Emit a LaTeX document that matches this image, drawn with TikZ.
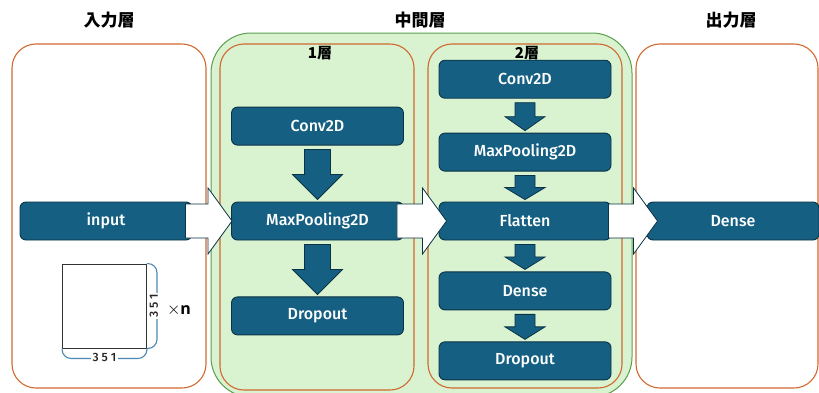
\documentclass[tikz,border=0pt]{standalone}
\usepackage{fontspec}
\setmainfont{Open Sans}
\newfontfamily\jpfont{Noto Sans CJK JP}
\newfontfamily\boxfont{Fira Sans}[UprightFont={* Medium}]
\usepackage{tikz}
\usetikzlibrary{positioning,calc}

\definecolor{nnblue}{HTML}{156082}
\definecolor{nnline}{HTML}{0B3245}
\definecolor{frameorange}{HTML}{D0692F}
\definecolor{midgreen}{HTML}{D9F2D0}
\definecolor{midgreenline}{HTML}{5C9E4E}
\definecolor{bracecol}{HTML}{4A88B5}

\tikzset{
  layerbox/.style={draw=nnline, fill=nnblue, line width=0.9pt, rounded corners=6pt,
    text=white, minimum width=172pt, minimum height=38pt, inner sep=0pt,
    font=\boxfont\fontsize{16}{18}\selectfont},
  frame/.style={draw=frameorange, line width=1.1pt, rounded corners=24pt},
  title/.style={font=\jpfont\bfseries\fontsize{17}{20}\selectfont},
  subtitle/.style={font=\jpfont\bfseries\fontsize{15}{18}\selectfont},
  blkarrow/.style={draw=nnline, fill=nnblue, line width=0.8pt, line join=miter},
  wharrow/.style={draw=nnline, fill=white, line width=0.8pt, line join=miter},
  dimlabel/.style={fill=white, inner sep=1.5pt, text=black!85,
    font=\boxfont\fontsize{12}{13}\selectfont},
}

% flecha hacia abajo: desde, hasta, semiancho del cuerpo, semiancho de la punta
\newcommand{\dnarrow}[4]{%
  \draw[blkarrow] let \p1=($(#1.south)+(0,-4pt)$), \p2=($(#2.north)+(0,2pt)$) in
    (\x1-#3,\y1) -- (\x1+#3,\y1) -- (\x1+#3,{(\y1+\y2)/2}) -- (\x1+#4,{(\y1+\y2)/2})
    -- (\x1,\y2) -- (\x1-#4,{(\y1+\y2)/2}) -- (\x1-#3,{(\y1+\y2)/2}) -- cycle;}
% flecha blanca hacia la derecha: desde, hasta, retroceso inicial, entrada de la punta
\newcommand{\rtarrow}[4]{%
  \draw[wharrow] let \p1=($(#1.east)+(-#3,0)$), \p2=($(#2.west)+(#4,0)$) in
    (\x1,\y1+17pt) -- (\x2-24pt,\y1+17pt) -- (\x2-24pt,\y1+33pt) -- (\x2,\y1)
    -- (\x2-24pt,\y1-33pt) -- (\x2-24pt,\y1-17pt) -- (\x1,\y1-17pt) -- cycle;}

\begin{document}
\begin{tikzpicture}[x=1pt, y=-1pt]
  \useasboundingbox (0,0) rectangle (819,392);
  \clip (0,0) rectangle (819,392);

  % Marcos
  \draw[draw=midgreenline, fill=midgreen, line width=1pt, rounded corners=40pt]
    (211,33) rectangle (632,397);
  \draw[frame] (12,44) rectangle (206,388);
  \draw[frame] (220,44) rectangle (414,390);
  \draw[frame] (428,44) rectangle (622,388);
  \draw[frame] (636,44) rectangle (818,388);

  % Titulos
  \node[title] (tin) at (109,20) {入力層};
  \node[title] (tmid) at (420,20) {中間層};
  \node[title] (tout) at (731,20) {出力層};
  \node[subtitle] (tl1) at (320,53) {1層};
  \node[subtitle] (tl2) at (527,53) {2層};

  % Capa de entrada
  \node[layerbox] (in) at (106,221) {input};
  \node[draw=black!80, line width=0.9pt, minimum size=84pt, inner sep=0pt] (img) at (104.5,306) {};
  \draw[bracecol, line width=1.1pt, rounded corners=9pt]
    (img.north east) -- ++(10pt,0) |- (img.south east);
  \draw[bracecol, line width=1.1pt, rounded corners=9pt]
    (img.south west) -- ++(0,-10pt) -| (img.south east);
  \node[dimlabel, rotate=90] (dimv) at ($(img.east)+(7pt,0)$) {3 5 1};
  \node[dimlabel] (dimh) at ($(img.south)+(0,-9pt)$) {3 5 1};
  \node[inner sep=0pt] (times) at (179,310)
    {\fontsize{18}{18}\selectfont$\times$\fontsize{16}{18}\selectfont\textbf{n}};

  % Capa 1
  \node[layerbox] (m1) at (317.5,221) {MaxPooling2D};
  \node[layerbox, above=56pt of m1] (c1) {Conv2D};
  \node[layerbox, below=56pt of m1] (d1) {Dropout};

  % Capa 2
  \node[layerbox] (f2) at (525,221) {Flatten};
  \node[layerbox, above=30pt of f2] (m2) {MaxPooling2D};
  \node[layerbox, above=34pt of m2] (c2) {Conv2D};
  \node[layerbox, below=31pt of f2] (de2) {Dense};
  \node[layerbox, below=31pt of de2] (dr2) {Dropout};

  % Capa de salida
  \node[layerbox] (out) at (733,221) {Dense};

  % Flechas
  \dnarrow{c1}{m1}{13pt}{25pt}
  \dnarrow{m1}{d1}{13pt}{25pt}
  \dnarrow{c2}{m2}{10pt}{20pt}
  \dnarrow{m2}{f2}{10pt}{20pt}
  \dnarrow{f2}{de2}{10pt}{20pt}
  \dnarrow{de2}{dr2}{10pt}{20pt}
  \rtarrow{in}{m1}{7pt}{1pt}
  \rtarrow{m1}{f2}{7pt}{8pt}
  \rtarrow{f2}{out}{3pt}{11pt}
\end{tikzpicture}
\end{document}
